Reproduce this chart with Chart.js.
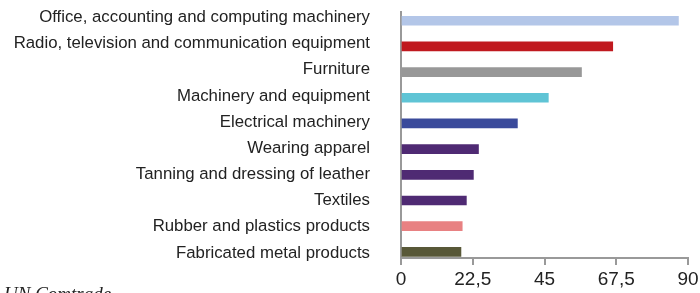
<!DOCTYPE html>
<html>
<head>
<meta charset="utf-8">
<script src="https://cdn.jsdelivr.net/npm/chart.js@4"></script>
<style>
  html, body { margin: 0; padding: 0; background: #fff; overflow: hidden; }
  #wrap { position: relative; width: 700px; height: 293px; }
  #source { position: absolute; left: 4px; top: 283px; font: italic 19px "Liberation Serif", serif; color: #222; }
</style>
</head>
<body>
<div id="wrap">
  <canvas id="myChart" width="700" height="293"></canvas>
  <div id="source">UN Comtrade</div>
</div>
<script>
const labels = [
    'Office, accounting and computing machinery',
    'Radio, television and communication equipment',
    'Furniture',
    'Machinery and equipment',
    'Electrical machinery',
    'Wearing apparel',
    'Tanning and dressing of leather',
    'Textiles',
    'Rubber and plastics products',
    'Fabricated metal products'
];
const values = [87, 66.4, 56.6, 46.2, 36.5, 24.3, 22.7, 20.5, 19.2, 18.8];
const colors = ['#b3c6e8', '#c0191f', '#989898', '#5fc4d5', '#3a4a9b', '#4f2a73', '#4f2a73', '#4f2a73', '#e88182', '#585838'];
const xTicks = [0, 22.5, 45, 67.5, 90];

const points = values.map((v, i) => ({ x: v, y: i }));

const config = {
    type: 'bar',
    data: {
        datasets: [{
            data: points,
            backgroundColor: colors,
            borderWidth: 0,
            barThickness: 9
        }]
    },
    options: {
        indexAxis: 'y',
        responsive: false,
        animation: false,
        layout: { padding: { top: 12, right: 12, left: 0, bottom: 0 } },
        plugins: { legend: { display: false }, tooltip: { enabled: false } },
        scales: {
            x: {
                type: 'linear',
                min: 0,
                max: 90,
                afterBuildTicks: (scale) => { scale.ticks = xTicks.map(v => ({ value: v })); },
                afterFit: (scale) => { scale.height = 35; scale.paddingLeft = 0; scale.paddingRight = 0; },
                grid: { drawOnChartArea: false, drawTicks: true, tickLength: 7, color: '#999', lineWidth: 2 },
                border: { color: '#999', width: 2 },
                ticks: {
                    padding: 3,
                    maxRotation: 0,
                    color: '#222',
                    font: { family: 'Liberation Sans', size: 19 },
                    callback: (v) => String(v).replace('.', ',')
                }
            },
            y: {
                type: 'linear',
                reverse: true,
                offset: false,
                min: -0.34,
                max: 9.24,
                // labels sit on a slightly wider pitch than the bars in the original
                afterBuildTicks: (scale) => { scale.ticks = labels.map((_, i) => ({ value: -0.124 + 1.0187 * i })); },
                afterFit: (scale) => { scale.width = 401; scale.paddingTop = 0; scale.paddingBottom = 0; },
                grid: { display: false, drawTicks: false, offset: false },
                border: { color: '#999', width: 2 },
                ticks: {
                    padding: 31,
                    color: '#222',
                    font: { family: 'Liberation Sans', size: 16.8 },
                    callback: (v, i) => labels[i]
                }
            }
        }
    }
};
const ctx = document.getElementById('myChart').getContext('2d');
const myChart = new Chart(ctx, config);
</script>
</body>
</html>
